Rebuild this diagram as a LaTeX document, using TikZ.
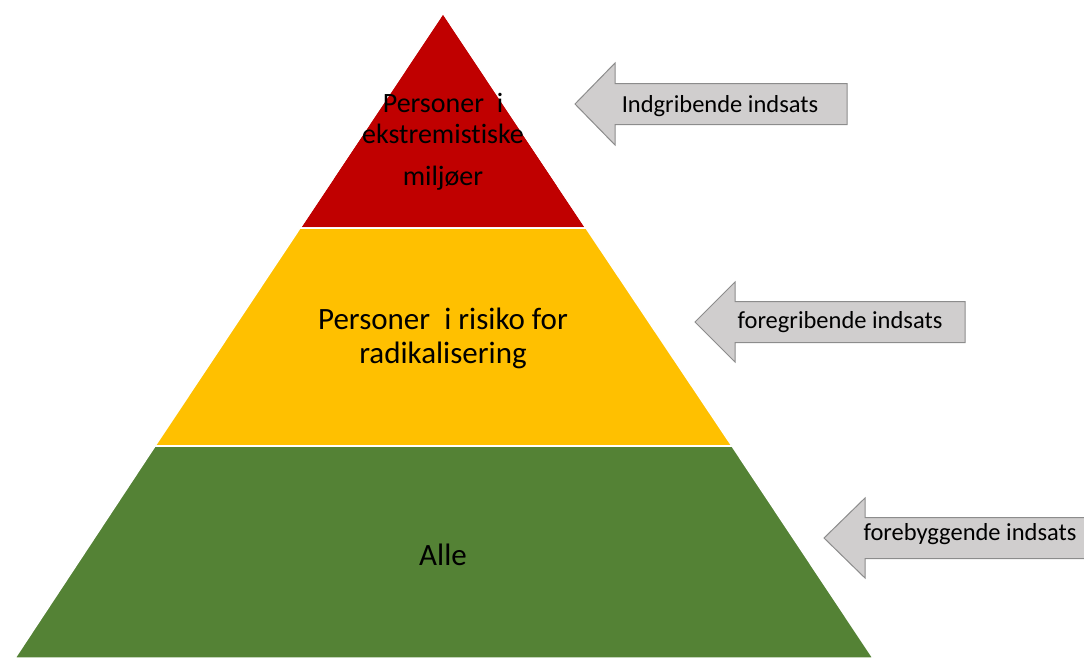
\documentclass[tikz,border=0pt]{standalone}
\usepackage{fontspec}
\setmainfont{Carlito}[Ligatures=NoCommon]

\definecolor{topred}{HTML}{C00000}
\definecolor{midyellow}{HTML}{FFC000}
\definecolor{basegreen}{HTML}{548235}
\definecolor{arrowgray}{HTML}{D0CECE}
\definecolor{arrowedge}{HTML}{8C8C8C}

\tikzstyle{layer} = [draw=white, line width=1.5pt, line join=round]
\tikzstyle{pointer} = [fill=arrowgray, draw=arrowedge, line width=1pt]
\tikzstyle{layertext} = [font=\fontsize{31}{34}\selectfont, align=center]
\tikzstyle{pointertext} = [font=\fontsize{24.5}{28}\selectfont, anchor=base]

\begin{document}
\begin{tikzpicture}[x=1pt, y=-1pt]
	\useasboundingbox (0,0) rectangle (1084,657);

	% pyramid
	\fill[layer, fill=topred] (443,13) -- (586,228) -- (300,228) -- cycle;
	\fill[layer, fill=midyellow] (300,228) -- (586,228) -- (732,446) -- (155,446) -- cycle;
	\fill[layer, fill=basegreen] (155,446) -- (732,446) -- (873,658) -- (15,658) -- cycle;
	\draw[layer] (443,13) -- (586,228) -- (300,228) -- cycle;
	\draw[layer] (155,446) -- (732,446);

	\node[layertext, font=\fontsize{28}{31}\selectfont] (top) at (443,142) {Personer\ \ i\\ekstremistiske\\[11pt]miljøer};
	\node[layertext] (middle) at (443,338) {Personer\ \ i risiko for\\radikalisering};
	\node[layertext, anchor=base] (bottom) at (443,565) {Alle};

	% arrows
	\draw[pointer] (575,104) -- (615,63) -- (615,83.5) -- (847,83.5) -- (847,124.5) -- (615,124.5) -- (615,145) -- cycle;
	\draw[pointer] (695,322) -- (735,282) -- (735,301.5) -- (965,301.5) -- (965,342.5) -- (735,342.5) -- (735,362) -- cycle;
	\draw[pointer] (824,538) -- (865,498) -- (865,517.5) -- (1090,517.5) -- (1090,558.5) -- (865,558.5) -- (865,578) -- cycle;

	\node[pointertext] (arrow1) at (720,112) {Indgribende indsats};
	\node[pointertext] (arrow2) at (840,328) {foregribende indsats};
	\node[pointertext] (arrow3) at (970,540) {forebyggende indsats};
\end{tikzpicture}
\end{document}
